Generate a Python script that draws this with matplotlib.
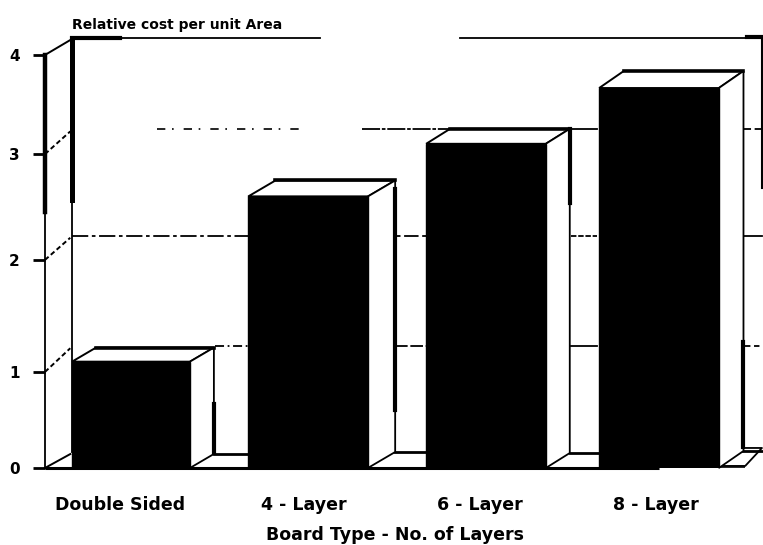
import matplotlib
matplotlib.use("Agg")
import matplotlib.pyplot as plt
from matplotlib.patches import Polygon

plt.rcParams['font.family'] = ['DejaVu Sans']

title = "Relative cost per unit Area"
xlabel = "Board Type - No. of Layers"
categories = ["Double Sided", "4 - Layer", "6 - Layer", "8 - Layer"]
label_pos = [-0.06, 0.98, 1.98, 2.98]
bar_x = [0.0, 1.006, 2.017, 3.0]
values = [1.03, 2.63, 3.14, 3.68]
bar_w = [0.67, 0.68, 0.68, 0.68]
depth_x = [0.136, 0.155, 0.136, 0.14]
depth_y = [0.136, 0.155, 0.145, 0.165]
thick_edge = [(0.155, 0.62), (0.56, 2.7), (2.57, 3.28), (0.2, 1.22)]

tick_pos = [0, 0.93, 2.015, 3.04, 4.0]
tick_labels = ["0", "1", "2", "3", "4"]
back_pos = [0.155, 1.18, 2.25, 3.28, 4.165]

# grid pieces on the back wall: (level, start, end, linestyle, width)
grid_parts = [
    (4.165, -0.335, 1.074, '-', 1.3),
    (4.165, 1.869, 3.585, '-', 1.3),
    (3.283, 0.148, 0.96, (0, (5, 4, 1, 6)), 1.2),
    (3.283, 1.3125, 2.02, (0, (10, 1, 2, 1)), 1.3),
    (3.283, 2.02, 2.65, '-', 1.3),
    (3.283, 3.47, 3.585, (0, (5, 2)), 1.3),
    (2.247, -0.335, 0.665, (0, (9, 2, 2, 2)), 1.3),
    (2.247, 1.347, 1.68, (0, (8, 2)), 1.3),
    (2.247, 2.5, 2.65, (0, (3, 1)), 1.3),
    (2.247, 3.47, 3.585, '-', 1.3),
    (1.182, 0.477, 0.665, (0, (5, 2, 1, 2)), 1.3),
    (1.182, 1.5, 1.68, (0, (7, 1.5)), 1.3),
    (1.182, 2.5, 2.65, '-', 1.3),
    (1.182, 3.49, 3.585, (0, (3, 2)), 1.3),
]

fig = plt.figure(figsize=(7.63, 5.45), dpi=100)
fig.patch.set_facecolor('white')
ax = fig.add_axes([45 / 763, 1 - 468 / 545, 702 / 763, 413 / 545])
ax.set_xlim(-0.4886, 3.5)
ax.set_ylim(0, 4)
for s in ax.spines.values():
    s.set_visible(False)
ax.patch.set_visible(False)

for lvl, a, b, ls, lw in grid_parts:
    ax.plot([a, b], [lvl, lvl], color='k', ls=ls, lw=lw, clip_on=False, zorder=1)

# front and back vertical axes
ax.plot([-0.489, -0.489], [0, 4], color='k', lw=1.3, clip_on=False, zorder=2)
ax.plot([-0.489, -0.489], [2.48, 4], color='k', lw=3.2, clip_on=False, zorder=2)
ax.plot([-0.335, -0.335], [0.155, 4.165], color='k', lw=1.3, clip_on=False, zorder=2)
ax.plot([-0.335, -0.335], [2.6, 4.165], color='k', lw=3.6, clip_on=False, zorder=2)
ax.plot([-0.335, -0.06], [4.165, 4.165], color='k', lw=3, clip_on=False, zorder=2)
ax.plot([3.585, 3.585], [2.71, 4.165], color='k', lw=1.5, clip_on=False, zorder=2)
ax.plot([3.5, 3.585], [4.175, 4.175], color='k', lw=3, clip_on=False, zorder=2)

# depth lines from the front axis ticks to the back wall
for t, b in zip(tick_pos, back_pos):
    solid = t in (0, 4.0)
    ax.plot([-0.489, -0.345], [t, b - 0.02], color='k', lw=1.4,
            ls='-' if solid else (0, (2.5, 1.5)), clip_on=False, zorder=2)

# tick marks on the front axis
ax.hlines(tick_pos, -0.557, -0.489, color='k', lw=2, clip_on=False, zorder=6)

# the bars
ax.bar(bar_x, values, width=bar_w, color='k', edgecolor='k', lw=1, zorder=5)
for i, (x, v, w, dx, dy) in enumerate(zip(bar_x, values, bar_w, depth_x, depth_y)):
    l, r = x - w / 2, x + w / 2
    ax.add_patch(Polygon([(l, v), (l + dx, v + dy), (r + dx, v + dy), (r, v)],
                         closed=True, fc='white', ec='k', lw=1.4, zorder=4, clip_on=False))
    ax.add_patch(Polygon([(r, 0), (r + dx, dy), (r + dx, v + dy), (r, v)],
                         closed=True, fc='white', ec='k', lw=1.3, zorder=4, clip_on=False))
    ax.plot([l + dx, r + dx], [v + dy, v + dy], color='k', lw=2.6, zorder=4, clip_on=False)
    ax.plot([r + dx, r + dx], thick_edge[i], color='k', lw=3, zorder=4, clip_on=False)
    # floor strip to the next bar
    end = bar_x[i + 1] - bar_w[i + 1] / 2 if i < 3 else 3.585
    ax.plot([r + dx, end], [dy, dy], color='k', lw=2.0, zorder=3, clip_on=False)

# floor on the far right
ax.plot([3.335, 3.472, 3.585, 3.49, 3.335], [0.02, 0.194, 0.194, 0.02, 0.02],
        color='k', lw=1.3, zorder=3, clip_on=False)

# base line
ax.plot([-0.489, 3.0], [0, 0], color='k', lw=2.2, clip_on=False, zorder=6, solid_capstyle='butt')
ax.plot([3.0, 3.49], [0.01, 0.01], color='k', lw=1.2, clip_on=False, zorder=6, solid_capstyle='butt')

ax.set_yticks(tick_pos, tick_labels, fontsize=11, fontweight='bold')
ax.tick_params(axis='y', length=0, pad=18)
ax.set_xticks(label_pos, categories, fontsize=12.5, fontweight='bold')
ax.tick_params(axis='x', length=0, pad=20)

ax.text(-0.335, 4.29, title, fontsize=10, fontweight='bold', ha='left', va='center', clip_on=False)
ax.text(1.5, -0.65, xlabel, fontsize=12.5, fontweight='bold', ha='center', va='center', clip_on=False)

fig.savefig("out.png", dpi=100)
